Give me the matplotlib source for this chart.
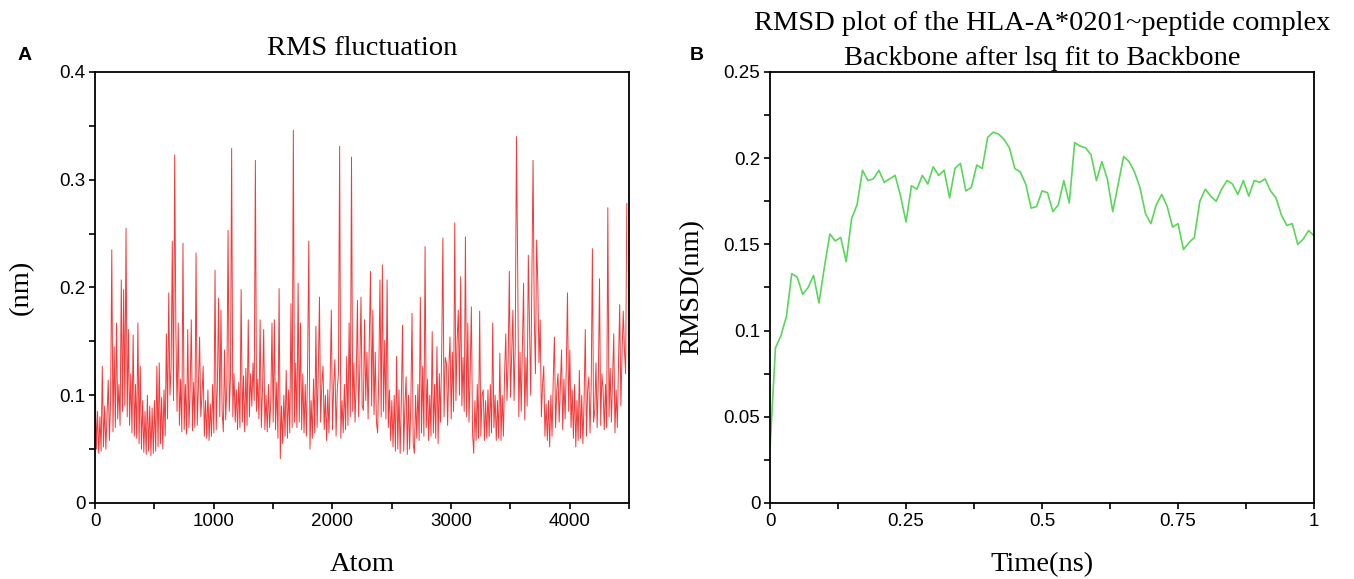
import numpy as np
import matplotlib.pyplot as plt
from matplotlib.ticker import MultipleLocator, FuncFormatter

# panel A: RMS fluctuation per atom (read every 10 atoms off the figure)
atom_step = 10
rmsf = [
    0.114, 0.050, 0.085, 0.046, 0.080, 0.048, 0.127, 0.052, 0.090, 0.050,
    0.082, 0.114, 0.058, 0.095, 0.235, 0.066, 0.145, 0.070, 0.167, 0.078,
    0.110, 0.072, 0.207, 0.085, 0.198, 0.090, 0.255, 0.080, 0.161, 0.072,
    0.120, 0.065, 0.156, 0.062, 0.110, 0.060, 0.167, 0.055, 0.127, 0.050,
    0.095, 0.047, 0.085, 0.045, 0.100, 0.048, 0.090, 0.044, 0.088, 0.046,
    0.095, 0.048, 0.127, 0.052, 0.130, 0.055, 0.098, 0.050, 0.105, 0.062,
    0.157, 0.078, 0.195, 0.100, 0.125, 0.243, 0.095, 0.323, 0.160, 0.085,
    0.167, 0.072, 0.115, 0.066, 0.241, 0.068, 0.110, 0.064, 0.161, 0.070,
    0.105, 0.170, 0.067, 0.112, 0.070, 0.232, 0.072, 0.108, 0.154, 0.080,
    0.100, 0.127, 0.062, 0.095, 0.060, 0.105, 0.058, 0.092, 0.062, 0.110,
    0.065, 0.216, 0.068, 0.110, 0.190, 0.080, 0.179, 0.085, 0.066, 0.142,
    0.077, 0.110, 0.253, 0.085, 0.115, 0.329, 0.080, 0.120, 0.075, 0.105,
    0.068, 0.112, 0.070, 0.198, 0.075, 0.118, 0.066, 0.125, 0.072, 0.170,
    0.080, 0.120, 0.090, 0.130, 0.095, 0.318, 0.085, 0.115, 0.078, 0.170,
    0.070, 0.105, 0.161, 0.068, 0.100, 0.066, 0.110, 0.070, 0.095, 0.167,
    0.075, 0.170, 0.068, 0.112, 0.060, 0.199, 0.041, 0.090, 0.055, 0.100,
    0.062, 0.123, 0.060, 0.105, 0.065, 0.185, 0.070, 0.346, 0.075, 0.130,
    0.070, 0.204, 0.075, 0.167, 0.068, 0.120, 0.065, 0.110, 0.062, 0.125,
    0.243, 0.050, 0.095, 0.060, 0.115, 0.065, 0.164, 0.070, 0.120, 0.191,
    0.075, 0.110, 0.127, 0.068, 0.100, 0.058, 0.105, 0.065, 0.112, 0.179,
    0.068, 0.110, 0.133, 0.062, 0.105, 0.120, 0.331, 0.060, 0.095, 0.065,
    0.110, 0.068, 0.136, 0.072, 0.167, 0.080, 0.321, 0.085, 0.130, 0.075,
    0.115, 0.188, 0.080, 0.125, 0.191, 0.090, 0.086, 0.170, 0.095, 0.140,
    0.078, 0.150, 0.215, 0.090, 0.179, 0.082, 0.140, 0.075, 0.065, 0.120,
    0.207, 0.080, 0.221, 0.085, 0.151, 0.078, 0.207, 0.070, 0.105, 0.058,
    0.095, 0.052, 0.100, 0.048, 0.136, 0.050, 0.105, 0.046, 0.095, 0.165,
    0.048, 0.090, 0.117, 0.045, 0.100, 0.050, 0.092, 0.176, 0.055, 0.046,
    0.100, 0.060, 0.110, 0.058, 0.191, 0.065, 0.127, 0.062, 0.238, 0.070,
    0.115, 0.058, 0.100, 0.062, 0.159, 0.065, 0.110, 0.060, 0.145, 0.055,
    0.120, 0.075, 0.140, 0.246, 0.080, 0.135, 0.130, 0.072, 0.125, 0.154,
    0.078, 0.140, 0.085, 0.260, 0.095, 0.150, 0.179, 0.100, 0.210, 0.090,
    0.135, 0.085, 0.247, 0.080, 0.167, 0.075, 0.120, 0.182, 0.065, 0.046,
    0.095, 0.058, 0.110, 0.060, 0.178, 0.062, 0.100, 0.105, 0.058, 0.095,
    0.060, 0.105, 0.062, 0.110, 0.065, 0.167, 0.070, 0.100, 0.058, 0.095,
    0.060, 0.139, 0.058, 0.100, 0.062, 0.120, 0.157, 0.095, 0.130, 0.215,
    0.098, 0.140, 0.179, 0.095, 0.148, 0.340, 0.222, 0.080, 0.140, 0.085,
    0.145, 0.204, 0.077, 0.135, 0.090, 0.230, 0.167, 0.100, 0.210, 0.318,
    0.173, 0.120, 0.244, 0.204, 0.130, 0.170, 0.080, 0.110, 0.127, 0.062,
    0.092, 0.058, 0.095, 0.052, 0.100, 0.062, 0.115, 0.154, 0.070, 0.105,
    0.120, 0.075, 0.110, 0.142, 0.068, 0.115, 0.078, 0.125, 0.195, 0.085,
    0.142, 0.070, 0.105, 0.060, 0.110, 0.052, 0.095, 0.058, 0.123, 0.060,
    0.100, 0.055, 0.095, 0.161, 0.062, 0.105, 0.117, 0.065, 0.110, 0.236,
    0.075, 0.086, 0.130, 0.070, 0.115, 0.208, 0.072, 0.120, 0.105, 0.068,
    0.110, 0.070, 0.274, 0.080, 0.125, 0.075, 0.115, 0.157, 0.065, 0.105,
    0.070, 0.130, 0.184, 0.090, 0.140, 0.178, 0.142, 0.120, 0.278,
]
atoms = np.arange(len(rmsf)) * atom_step + 1

# panel B: backbone RMSD over 1 ns
rmsd_time = np.arange(101) / 100
rmsd = [
    0.032, 0.090, 0.097, 0.108, 0.133, 0.131, 0.121, 0.125, 0.132, 0.116,
    0.137, 0.156, 0.152, 0.154, 0.140, 0.165, 0.173, 0.193, 0.187, 0.188,
    0.193, 0.186, 0.188, 0.190, 0.178, 0.163, 0.184, 0.182, 0.190, 0.185,
    0.195, 0.190, 0.193, 0.177, 0.194, 0.197, 0.181, 0.183, 0.196, 0.194,
    0.212, 0.215, 0.214, 0.211, 0.206, 0.194, 0.192, 0.185, 0.171, 0.172,
    0.181, 0.180, 0.169, 0.173, 0.187, 0.174, 0.209, 0.207, 0.206, 0.202,
    0.187, 0.198, 0.188, 0.169, 0.185, 0.201, 0.198, 0.192, 0.183, 0.168,
    0.162, 0.173, 0.179, 0.172, 0.160, 0.162, 0.147, 0.151, 0.154, 0.175,
    0.182, 0.178, 0.175, 0.182, 0.187, 0.185, 0.179, 0.187, 0.178, 0.187,
    0.186, 0.188, 0.181, 0.177, 0.167, 0.161, 0.162, 0.150, 0.153, 0.158,
    0.155,
]

serif = 'Liberation Serif'
sans = 'Liberation Sans'
plt.rcParams['font.family'] = sans

fig = plt.figure(figsize=(13.54, 5.79), dpi=100)
ax1 = fig.add_axes([0.0702, 0.1313, 0.3944, 0.7444])
ax2 = fig.add_axes([0.5687, 0.1313, 0.4018, 0.7444])

ax1.plot(atoms, rmsf, color='#f23a3a', lw=0.7)
ax2.plot(rmsd_time, rmsd, color='#5ad65a', lw=1.2)

ax1.set_xlim(0, 4500)
ax1.set_ylim(0, 0.4)
ax1.xaxis.set_major_locator(MultipleLocator(1000))
ax1.xaxis.set_minor_locator(MultipleLocator(500))
ax1.yaxis.set_major_locator(MultipleLocator(0.1))
ax1.yaxis.set_minor_locator(MultipleLocator(0.05))

ax2.set_xlim(0, 1)
ax2.set_ylim(0, 0.25)
ax2.xaxis.set_major_locator(MultipleLocator(0.25))
ax2.xaxis.set_minor_locator(MultipleLocator(0.125))
ax2.yaxis.set_major_locator(MultipleLocator(0.05))
ax2.yaxis.set_minor_locator(MultipleLocator(0.025))

fmt = FuncFormatter(lambda v, p: '%g' % round(v, 4))
for ax in (ax1, ax2):
    ax.xaxis.set_major_formatter(fmt)
    ax.yaxis.set_major_formatter(fmt)
    ax.tick_params(which='both', direction='out', length=4, width=1.2,
                   top=False, right=False, labelsize=13.5, pad=3)
    for s in ax.spines.values():
        s.set_linewidth(1.3)

ax1.set_title('RMS fluctuation', family=serif, fontsize=20.5, pad=12)
ax2.set_title('RMSD plot of the HLA-A*0201~peptide complex\nBackbone after lsq fit to Backbone',
              family=serif, fontsize=20.5, pad=5, linespacing=1.55)

ax1.set_xlabel('Atom', family=serif, fontsize=20.5)
ax1.set_ylabel('(nm)', family=serif, fontsize=20.5)
ax2.set_xlabel('Time(ns)', family=serif, fontsize=20.5)
ax2.set_ylabel('RMSD(nm)', family=serif, fontsize=20.5)
ax1.xaxis.set_label_coords(0.5, -0.114)
ax2.xaxis.set_label_coords(0.5, -0.114)
ax1.yaxis.set_label_coords(-0.115, 0.5)
ax2.yaxis.set_label_coords(-0.12, 0.5)

fig.text(0.0133, 0.905, 'A', fontsize=14, fontweight='bold', va='center')
fig.text(0.5096, 0.905, 'B', fontsize=14, fontweight='bold', va='center')

fig.savefig('out.png', dpi=100)
